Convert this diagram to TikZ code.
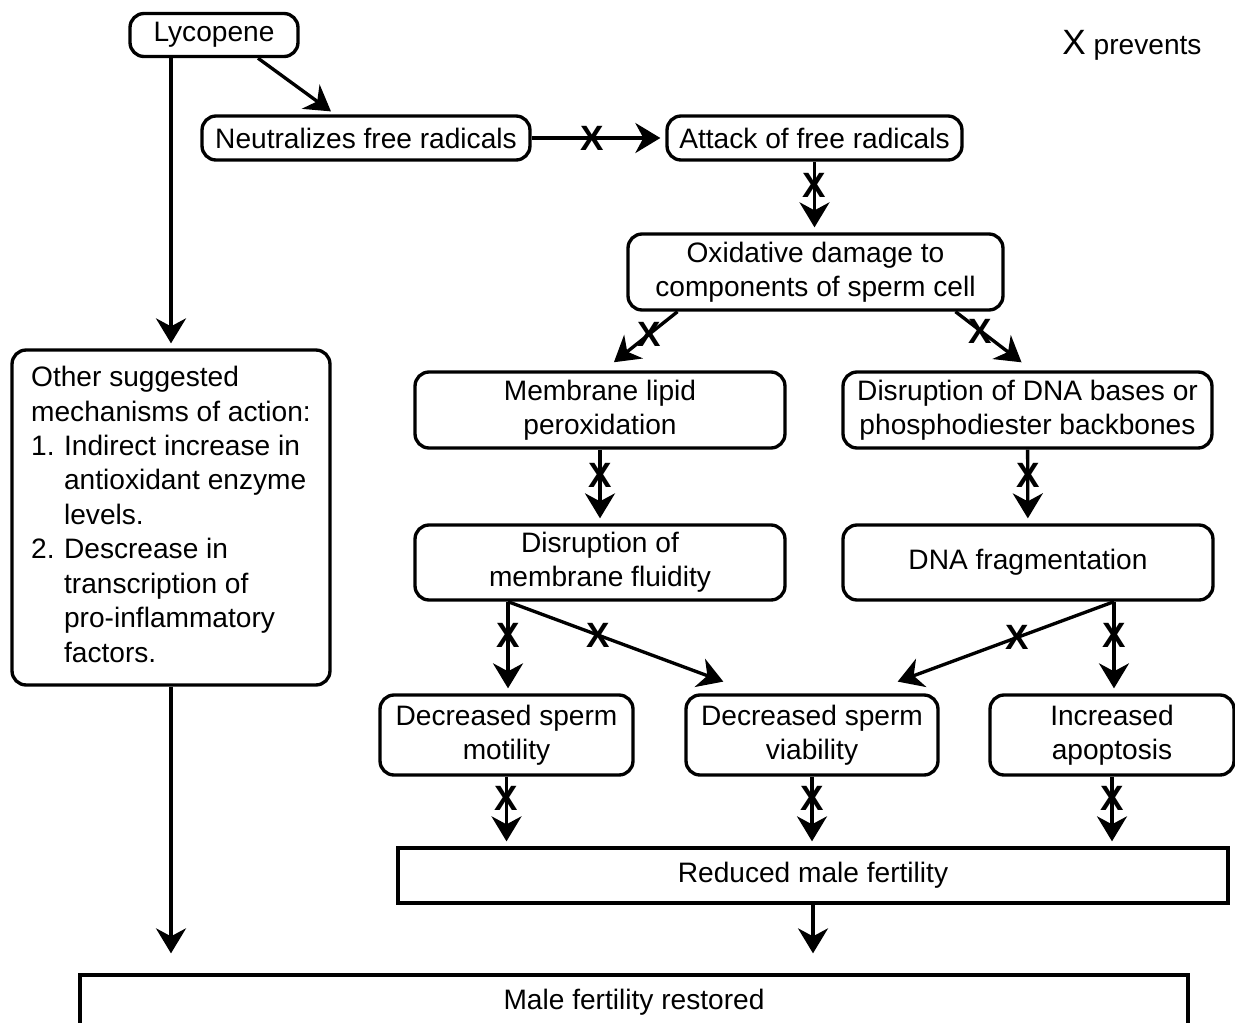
\documentclass[tikz,border=0pt]{standalone}
\usepackage{fontspec}
\setmainfont{Liberation Sans}
\usetikzlibrary{arrows.meta, positioning, calc}

\begin{document}
\begin{tikzpicture}[x=0.02cm, y=-0.02cm,
  every node/.style={font=\fontsize{16}{19.6}\selectfont},
  box/.style={draw, line width=1.9pt, rounded corners=0.28cm, align=center, inner sep=0pt},
  plain/.style={draw, line width=1.9pt, align=center, inner sep=0pt},
  flow/.style={line width=1.9pt, -{Stealth[length=0.5cm, width=0.6cm, inset=0.16cm]}, shorten >=0.1cm},
  stop/.style={font=\fontsize{20}{20}\selectfont\bfseries, inner sep=0pt}]
\useasboundingbox (0,0) rectangle (1235,1022);

% boxes
\node (lyc) [box, minimum width=3.36cm, minimum height=0.86cm] at (214,35) {Lycopene};
\node (legend) at (1132,45) {{\fontsize{20}{20}\selectfont X} prevents};
\node (neut) [box, minimum width=6.56cm, minimum height=0.88cm] at (366,138) {Neutralizes free radicals};
\node (att) [box, minimum width=5.9cm, minimum height=0.88cm] at (814.5,138) {Attack of free radicals};
\node (oxi) [box, minimum width=7.5cm, minimum height=1.52cm] at (815.5,272) {Oxidative damage to\\components of sperm cell};
\node (mem) [box, minimum width=7.4cm, minimum height=1.52cm] at (600,410) {Membrane lipid\\peroxidation};
\node (dna) [box, minimum width=7.38cm, minimum height=1.52cm] at (1027.5,410) {Disruption of DNA bases or\\phosphodiester backbones};
\node (flu) [box, minimum width=7.4cm, minimum height=1.5cm] at (600,562.5) {Disruption of\\membrane fluidity};
\node (frag) [box, minimum width=7.4cm, minimum height=1.5cm] at (1028,562.5) {DNA fragmentation};
\node (mot) [box, minimum width=5.06cm, minimum height=1.6cm] at (506.5,735) {Decreased sperm\\motility};
\node (via) [box, minimum width=5.04cm, minimum height=1.6cm] at (812,735) {Decreased sperm\\viability};
\node (apo) [box, minimum width=4.88cm, minimum height=1.6cm] at (1112,735) {Increased\\apoptosis};
\node (red) [plain, minimum width=16.6cm, minimum height=1.1cm] at (813,875.5) {Reduced male fertility};
\node (restored) [plain, minimum width=22.16cm, minimum height=1.08cm] at (634,1002) {Male fertility restored};
\node (other) [box, minimum width=6.36cm, minimum height=6.7cm] at (171,517.5) {%
  \begin{tabular}{@{}l@{\hspace{5.4pt}}l@{}}
  \multicolumn{2}{@{}l@{}}{Other suggested}\\
  \multicolumn{2}{@{}l@{}}{mechanisms of action:}\\
  1. & Indirect increase in\\
     & antioxidant enzyme\\
     & levels.\\
  2. & Descrease in\\
     & transcription of\\
     & pro-inflammatory\\
     & factors.
  \end{tabular}};

% connectors
\draw[flow] ([xshift=0.88cm]lyc.south) -- ([xshift=-0.62cm]neut.north);
\draw[flow] (lyc.south -| other.north) -- (other.north);
\draw[flow] (neut) -- node[stop, pos=.45] {X} (att);
\draw[flow] (att.south) -- node[stop, pos=.33] {X} (att.south |- oxi.north);
\draw[flow] ([xshift=-2.76cm]oxi.south) -- node[stop, pos=.42] {X} ([xshift=0.2cm, yshift=0.1cm]mem.north);
\draw[flow] ([xshift=2.8cm]oxi.south) -- node[stop, pos=.36] {X} ([xshift=-0.04cm, yshift=0.1cm]dna.north);
\draw[flow] (mem) -- node[stop, pos=.35] {X} (flu);
\draw[flow] (dna) -- node[stop, pos=.35] {X} (frag);

\coordinate (fl) at ([xshift=-1.84cm]flu.south);
\coordinate (fr) at ([xshift=1.72cm]frag.south);
\draw[flow] (fl) -- node[stop, pos=.37] {X} (fl |- mot.north);
\draw[flow] (fl) -- node[stop, pos=.41] {X} ([xshift=-1.68cm, yshift=0.2cm]via.north);
\draw[flow] (fr) -- node[stop, pos=.37] {X} (fr |- apo.north);
\draw[flow] (fr) -- node[stop, pos=.44] {X} ([xshift=1.62cm, yshift=0.2cm]via.north);

\foreach \n in {mot, via, apo}
  \draw[flow] (\n.south) -- node[stop, pos=.31] {X} (\n.south |- red.north);

\draw[flow, shorten >=0.4cm] (other.south) -- (other.south |- restored.north);
\draw[flow, shorten >=0.4cm] (red.south) -- (red.south |- restored.north);
\end{tikzpicture}
\end{document}
